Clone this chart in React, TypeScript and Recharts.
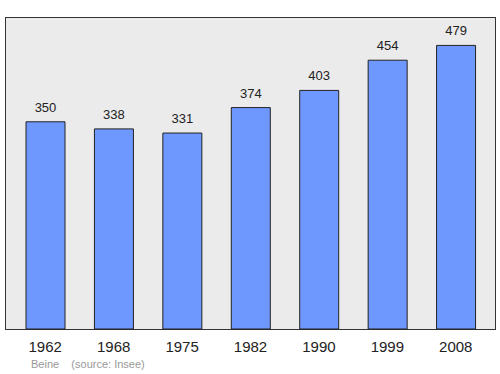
import { BarChart, Bar, XAxis, YAxis, LabelList } from 'recharts'

const YEARS = ['1962', '1968', '1975', '1982', '1990', '1999', '2008']
const POPULATION = [350, 338, 331, 374, 403, 454, 479]

const data = YEARS.map((year, i) => ({ year, pop: POPULATION[i] }))

export default function App() {
  return (
    <div style={{ position: 'absolute', left: 0, top: 0, width: 500, height: 374, background: '#fff', fontFamily: '"Liberation Sans", Arial, sans-serif' }}>
      {/* plot frame */}
      <div style={{ position: 'absolute', left: 4.5, top: 16.5, width: 491, height: 313, boxSizing: 'border-box', background: '#ebebeb', border: '1.5px solid #333' }} />
      <BarChart width={500} height={374} data={data} margin={{ top: 17, right: 5, bottom: 0, left: 5 }} style={{ position: 'absolute', left: 0, top: 0 }}>
        <XAxis
          dataKey="year"
          height={45}
          padding={{ left: 6, right: 5 }}
          tickLine={false}
          tickSize={0}
          tickMargin={12}
          axisLine={false}
          tick={{ fill: '#222', fontSize: 15 }}
          interval={0}
        />
        <YAxis domain={[0, 527]} hide />
        <Bar dataKey="pop" fill="#6f98ff" stroke="#222" strokeWidth={1} barSize={39} isAnimationActive={false}>
          <LabelList dataKey="pop" position="top" offset={10} fill="#222" fontSize={13} />
        </Bar>
      </BarChart>
      <div style={{ position: 'absolute', left: 31, top: 358, fontSize: 11, color: '#999', whiteSpace: 'pre' }}>
        {'Beine    (source: Insee)'}
      </div>
    </div>
  )
}
